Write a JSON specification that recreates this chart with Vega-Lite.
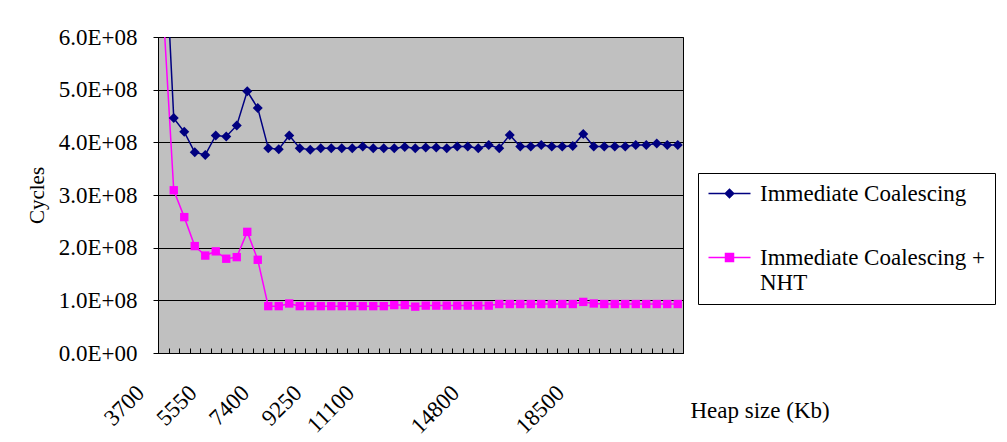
{
  "$schema": "https://vega.github.io/schema/vega-lite/v6.json",
  "width": 525,
  "height": 316,
  "autosize": {"type": "none"},
  "padding": {"left": 158, "top": 37, "right": 324, "bottom": 89},
  "background": "white",
  "config": {
    "font": "Liberation Serif",
    "view": {"fill": "#C0C0C0", "stroke": "#000000", "strokeWidth": 1}
  },
  "datasets": {
    "runs": [
      {"heap": 3700, "series": "Immediate Coalescing", "cycles": 850000000},
      {"heap": 4070, "series": "Immediate Coalescing", "cycles": 446000000},
      {"heap": 4440, "series": "Immediate Coalescing", "cycles": 420000000},
      {"heap": 4810, "series": "Immediate Coalescing", "cycles": 381000000},
      {"heap": 5180, "series": "Immediate Coalescing", "cycles": 376000000},
      {"heap": 5550, "series": "Immediate Coalescing", "cycles": 413000000},
      {"heap": 5920, "series": "Immediate Coalescing", "cycles": 411000000},
      {"heap": 6290, "series": "Immediate Coalescing", "cycles": 432000000},
      {"heap": 6660, "series": "Immediate Coalescing", "cycles": 497000000},
      {"heap": 7030, "series": "Immediate Coalescing", "cycles": 465000000},
      {"heap": 7400, "series": "Immediate Coalescing", "cycles": 389000000},
      {"heap": 7770, "series": "Immediate Coalescing", "cycles": 387000000},
      {"heap": 8140, "series": "Immediate Coalescing", "cycles": 413000000},
      {"heap": 8510, "series": "Immediate Coalescing", "cycles": 389000000},
      {"heap": 8880, "series": "Immediate Coalescing", "cycles": 386000000},
      {"heap": 9250, "series": "Immediate Coalescing", "cycles": 389000000},
      {"heap": 9620, "series": "Immediate Coalescing", "cycles": 389000000},
      {"heap": 9990, "series": "Immediate Coalescing", "cycles": 389000000},
      {"heap": 10360, "series": "Immediate Coalescing", "cycles": 389000000},
      {"heap": 10730, "series": "Immediate Coalescing", "cycles": 392000000},
      {"heap": 11100, "series": "Immediate Coalescing", "cycles": 389000000},
      {"heap": 11470, "series": "Immediate Coalescing", "cycles": 389000000},
      {"heap": 11840, "series": "Immediate Coalescing", "cycles": 389000000},
      {"heap": 12210, "series": "Immediate Coalescing", "cycles": 391000000},
      {"heap": 12580, "series": "Immediate Coalescing", "cycles": 389000000},
      {"heap": 12950, "series": "Immediate Coalescing", "cycles": 390000000},
      {"heap": 13320, "series": "Immediate Coalescing", "cycles": 390000000},
      {"heap": 13690, "series": "Immediate Coalescing", "cycles": 389000000},
      {"heap": 14060, "series": "Immediate Coalescing", "cycles": 392000000},
      {"heap": 14430, "series": "Immediate Coalescing", "cycles": 392000000},
      {"heap": 14800, "series": "Immediate Coalescing", "cycles": 389000000},
      {"heap": 15170, "series": "Immediate Coalescing", "cycles": 395000000},
      {"heap": 15540, "series": "Immediate Coalescing", "cycles": 389000000},
      {"heap": 15910, "series": "Immediate Coalescing", "cycles": 414000000},
      {"heap": 16280, "series": "Immediate Coalescing", "cycles": 392000000},
      {"heap": 16650, "series": "Immediate Coalescing", "cycles": 392000000},
      {"heap": 17020, "series": "Immediate Coalescing", "cycles": 395000000},
      {"heap": 17390, "series": "Immediate Coalescing", "cycles": 392000000},
      {"heap": 17760, "series": "Immediate Coalescing", "cycles": 392000000},
      {"heap": 18130, "series": "Immediate Coalescing", "cycles": 393000000},
      {"heap": 18500, "series": "Immediate Coalescing", "cycles": 416000000},
      {"heap": 18870, "series": "Immediate Coalescing", "cycles": 392000000},
      {"heap": 19240, "series": "Immediate Coalescing", "cycles": 392000000},
      {"heap": 19610, "series": "Immediate Coalescing", "cycles": 392000000},
      {"heap": 19980, "series": "Immediate Coalescing", "cycles": 392000000},
      {"heap": 20350, "series": "Immediate Coalescing", "cycles": 395000000},
      {"heap": 20720, "series": "Immediate Coalescing", "cycles": 395000000},
      {"heap": 21090, "series": "Immediate Coalescing", "cycles": 398000000},
      {"heap": 21460, "series": "Immediate Coalescing", "cycles": 395000000},
      {"heap": 21830, "series": "Immediate Coalescing", "cycles": 395000000},
      {"heap": 3700, "series": "Immediate Coalescing + NHT", "cycles": 650000000},
      {"heap": 4070, "series": "Immediate Coalescing + NHT", "cycles": 309000000},
      {"heap": 4440, "series": "Immediate Coalescing + NHT", "cycles": 258000000},
      {"heap": 4810, "series": "Immediate Coalescing + NHT", "cycles": 203000000},
      {"heap": 5180, "series": "Immediate Coalescing + NHT", "cycles": 185000000},
      {"heap": 5550, "series": "Immediate Coalescing + NHT", "cycles": 193000000},
      {"heap": 5920, "series": "Immediate Coalescing + NHT", "cycles": 179000000},
      {"heap": 6290, "series": "Immediate Coalescing + NHT", "cycles": 182000000},
      {"heap": 6660, "series": "Immediate Coalescing + NHT", "cycles": 230000000},
      {"heap": 7030, "series": "Immediate Coalescing + NHT", "cycles": 177000000},
      {"heap": 7400, "series": "Immediate Coalescing + NHT", "cycles": 89000000},
      {"heap": 7770, "series": "Immediate Coalescing + NHT", "cycles": 89000000},
      {"heap": 8140, "series": "Immediate Coalescing + NHT", "cycles": 94000000},
      {"heap": 8510, "series": "Immediate Coalescing + NHT", "cycles": 89000000},
      {"heap": 8880, "series": "Immediate Coalescing + NHT", "cycles": 89000000},
      {"heap": 9250, "series": "Immediate Coalescing + NHT", "cycles": 89000000},
      {"heap": 9620, "series": "Immediate Coalescing + NHT", "cycles": 89000000},
      {"heap": 9990, "series": "Immediate Coalescing + NHT", "cycles": 89000000},
      {"heap": 10360, "series": "Immediate Coalescing + NHT", "cycles": 89000000},
      {"heap": 10730, "series": "Immediate Coalescing + NHT", "cycles": 89000000},
      {"heap": 11100, "series": "Immediate Coalescing + NHT", "cycles": 89000000},
      {"heap": 11470, "series": "Immediate Coalescing + NHT", "cycles": 89000000},
      {"heap": 11840, "series": "Immediate Coalescing + NHT", "cycles": 91000000},
      {"heap": 12210, "series": "Immediate Coalescing + NHT", "cycles": 91000000},
      {"heap": 12580, "series": "Immediate Coalescing + NHT", "cycles": 88000000},
      {"heap": 12950, "series": "Immediate Coalescing + NHT", "cycles": 90000000},
      {"heap": 13320, "series": "Immediate Coalescing + NHT", "cycles": 90000000},
      {"heap": 13690, "series": "Immediate Coalescing + NHT", "cycles": 90000000},
      {"heap": 14060, "series": "Immediate Coalescing + NHT", "cycles": 90000000},
      {"heap": 14430, "series": "Immediate Coalescing + NHT", "cycles": 90000000},
      {"heap": 14800, "series": "Immediate Coalescing + NHT", "cycles": 90000000},
      {"heap": 15170, "series": "Immediate Coalescing + NHT", "cycles": 90000000},
      {"heap": 15540, "series": "Immediate Coalescing + NHT", "cycles": 93000000},
      {"heap": 15910, "series": "Immediate Coalescing + NHT", "cycles": 93000000},
      {"heap": 16280, "series": "Immediate Coalescing + NHT", "cycles": 93000000},
      {"heap": 16650, "series": "Immediate Coalescing + NHT", "cycles": 93000000},
      {"heap": 17020, "series": "Immediate Coalescing + NHT", "cycles": 93000000},
      {"heap": 17390, "series": "Immediate Coalescing + NHT", "cycles": 93000000},
      {"heap": 17760, "series": "Immediate Coalescing + NHT", "cycles": 93000000},
      {"heap": 18130, "series": "Immediate Coalescing + NHT", "cycles": 93000000},
      {"heap": 18500, "series": "Immediate Coalescing + NHT", "cycles": 97000000},
      {"heap": 18870, "series": "Immediate Coalescing + NHT", "cycles": 94000000},
      {"heap": 19240, "series": "Immediate Coalescing + NHT", "cycles": 93000000},
      {"heap": 19610, "series": "Immediate Coalescing + NHT", "cycles": 93000000},
      {"heap": 19980, "series": "Immediate Coalescing + NHT", "cycles": 93000000},
      {"heap": 20350, "series": "Immediate Coalescing + NHT", "cycles": 93000000},
      {"heap": 20720, "series": "Immediate Coalescing + NHT", "cycles": 93000000},
      {"heap": 21090, "series": "Immediate Coalescing + NHT", "cycles": 93000000},
      {"heap": 21460, "series": "Immediate Coalescing + NHT", "cycles": 93000000},
      {"heap": 21830, "series": "Immediate Coalescing + NHT", "cycles": 93000000}
    ]
  },
  "data": {"name": "runs"},
  "encoding": {
    "x": {
      "field": "heap",
      "type": "quantitative",
      "scale": {"domain": [3515, 22015], "nice": false, "zero": false},
      "axis": {
        "values": [3515, 3885, 4255, 4625, 4995, 5365, 5735, 6105, 6475, 6845, 7215, 7585, 7955, 8325, 8695, 9065, 9435, 9805, 10175, 10545, 10915, 11285, 11655, 12025, 12395, 12765, 13135, 13505, 13875, 14245, 14615, 14985, 15355, 15725, 16095, 16465, 16835, 17205, 17575, 17945, 18315, 18685, 19055, 19425, 19795, 20165, 20535, 20905, 21275, 21645, 22015, 3700, 5550, 7400, 9250, 11100, 14800, 18500],
        "format": "d",
        "labelExpr": "(datum.value - 3515) % 370 == 0 ? '' : datum.label",
        "tickOpacity": {"condition": {"test": "(datum.value - 3515) % 370 == 0", "value": 1}, "value": 0},
        "tickSize": -5,
        "tickColor": "#000000",
        "domainColor": "#000000",
        "grid": false,
        "labelAngle": -45,
        "labelAlign": "right",
        "labelBaseline": "middle",
        "labelOffset": -23,
        "labelPadding": 41,
        "labelOverlap": false,
        "labelFlush": false,
        "labelBound": false,
        "labelFontSize": 23,
        "labelColor": "#000000",
        "title": "Heap size (Kb)",
        "titleFontSize": 23,
        "titleFontWeight": "normal",
        "titleColor": "#000000",
        "titleAlign": "left",
        "titleBaseline": "alphabetic",
        "titleX": 532,
        "titleY": 64
      }
    },
    "y": {
      "field": "cycles",
      "type": "quantitative",
      "scale": {"domain": [0, 600000000], "nice": false},
      "axis": {
        "values": [0, 100000000, 200000000, 300000000, 400000000, 500000000, 600000000],
        "labelExpr": "datum.value == 0 ? '0.0E+00' : format(datum.value / 100000000, '.1f') + 'E+08'",
        "grid": true,
        "gridColor": "#000000",
        "gridWidth": 1,
        "gridOpacity": 1,
        "domainColor": "#000000",
        "tickColor": "#000000",
        "tickSize": 5,
        "labelPadding": 16,
        "labelFontSize": 23,
        "labelColor": "#000000",
        "title": "Cycles",
        "titleFontSize": 21,
        "titleFontWeight": "normal",
        "titleColor": "#000000",
        "titlePadding": 11
      }
    },
    "color": {
      "field": "series",
      "type": "nominal",
      "scale": {
        "domain": ["Immediate Coalescing", "Immediate Coalescing + NHT"],
        "range": ["#000080", "#FF00FF"]
      },
      "legend": {
        "title": null,
        "orient": "none",
        "legendX": 540,
        "legendY": 136,
        "padding": 9,
        "strokeColor": "#000000",
        "fillColor": "#FFFFFF",
        "labelFont": "Liberation Serif",
        "labelFontSize": 23,
        "labelColor": "#000000",
        "labelLimit": 400,
        "labelOffset": 30,
        "rowPadding": 40,
        "symbolSize": 400,
        "labelExpr": "datum.label === 'Immediate Coalescing + NHT' ? ['Immediate Coalescing +', 'NHT'] : datum.label",
        "encode": {
          "symbols": {
            "update": {
              "shape": {"signal": "datum.value === 'Immediate Coalescing' ? 'M-1,0L3.2,0M1.1,-0.42L1.52,0L1.1,0.42L0.68,0Z' : 'M-1,0L3.2,0M0.7,-0.4L1.5,-0.4L1.5,0.4L0.7,0.4Z'"},
              "fill": {"signal": "scale('color', datum.value)"},
              "stroke": {"signal": "scale('color', datum.value)"},
              "strokeWidth": {"value": 1.5},
              "size": {"value": 400},
              "opacity": {"value": 1},
              "fillOpacity": {"value": 1},
              "strokeOpacity": {"value": 1}
            }
          }
        }
      }
    }
  },
  "layer": [
    {"mark": {"type": "line", "clip": true, "strokeWidth": 1.5}},
    {
      "transform": [{"filter": "datum.series === 'Immediate Coalescing'"}],
      "mark": {"type": "point", "shape": "diamond", "size": 100, "filled": true, "opacity": 1, "clip": true}
    },
    {
      "transform": [{"filter": "datum.series === 'Immediate Coalescing + NHT'"}],
      "mark": {"type": "point", "shape": "square", "size": 70, "filled": true, "opacity": 1, "clip": true}
    }
  ]
}
